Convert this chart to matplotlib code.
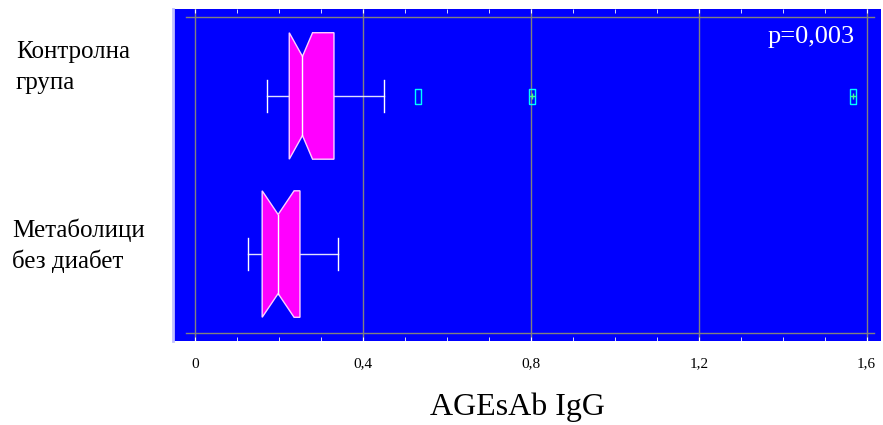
# AGEsAb IgG - notched box plot, control vs metabolic without diabetes
import numpy as np
import matplotlib.pyplot as plt
from matplotlib.ticker import MultipleLocator, FixedLocator


# Data .................................................
groups = ["Контролна\nгрупа", "Метаболици\nбез диабет"]
whisker_lo = [0.171, 0.127]
q1 = [0.2245, 0.160]
median = [0.256, 0.198]
notch_hi = [0.280, 0.236]
q3 = [0.331, 0.250]
whisker_hi = [0.450, 0.341]
outliers = [[0.530, 0.802, 1.567], []]
far_outliers = [[0.802, 1.567], []]
x_ticks = [0, 0.4, 0.8, 1.2, 1.6]
x_ticklabels = ["0", "0,4", "0,8", "1,2", "1,6"]
p_text = "p=0,003"
x_label = "AGEsAb IgG"


# Figure ......................................................................
serif = "Liberation Serif"
fig = plt.figure(figsize=(8.83, 4.25), dpi=100)
ax = fig.add_axes([173 / 883, 1 - 341 / 425, 708 / 883, 332 / 425])
ax.set_facecolor("#0000FF")
ax.set_xlim(-0.0524, 1.634)
ax.set_ylim(0.45, 2.55)

# grid and frame lines
for xt in x_ticks:
    ax.axvline(xt, color="#808080", lw=1, zorder=1)
ax.axhline(0.5, xmin=0.019, xmax=0.99, color="#808080", lw=1, zorder=1)
ax.axhline(2.5, xmin=0.019, xmax=0.99, color="#808080", lw=1, zorder=1)

half = 0.4      # half box height
waist = 0.25    # half height at the median
cap = 0.1       # half whisker cap height
edge = "#FFD0FF"

for i in range(len(groups)):
    y = len(groups) - i
    lo, hi = q1[i], q3[i]
    med, nh = median[i], notch_hi[i]

    # whiskers
    ax.plot([whisker_lo[i], lo], [y, y], color="#E0E0FF", lw=1, zorder=2)
    ax.plot([hi, whisker_hi[i]], [y, y], color="#E0E0FF", lw=1, zorder=2)
    ax.plot([whisker_lo[i]] * 2, [y - cap, y + cap], color="white", lw=1, zorder=2)
    ax.plot([whisker_hi[i]] * 2, [y - cap, y + cap], color="white", lw=1, zorder=2)

    # notched box
    xs = [lo, med, nh, hi, hi, nh, med, lo, lo]
    ys = [y + half, y + waist, y + half, y + half,
          y - half, y - half, y - waist, y - half, y + half]
    ax.fill(xs, ys, facecolor="#FF00FF", edgecolor=edge, lw=1, zorder=3)
    ax.plot([med, med], [y - waist, y + waist], color="white", lw=1, zorder=4)

    # outliers
    rect = [(-0.38, -1), (0.38, -1), (0.38, 1), (-0.38, 1), (-0.38, -1)]
    if outliers[i]:
        ax.plot(outliers[i], [y] * len(outliers[i]), ls="none", marker=rect,
                ms=10.8, mfc="none", mec="#00FFFF", mew=1, zorder=5)
    if far_outliers[i]:
        ax.plot(far_outliers[i], [y] * len(far_outliers[i]), ls="none",
                marker="+", ms=5, mec="#40FF90", mew=1, zorder=5)

# ticks
ax.xaxis.set_major_locator(FixedLocator(x_ticks))
ax.set_xticklabels(x_ticklabels, fontsize=11, family=serif)
ax.xaxis.set_minor_locator(MultipleLocator(0.1))
ax.tick_params(axis="x", which="both", direction="in", length=3,
               color="white", top=True, bottom=True, pad=12)
ax.set_yticks([])
for side in ["top", "right", "bottom"]:
    ax.spines[side].set_visible(False)
ax.spines["left"].set_color("#C0C0FF")
ax.spines["left"].set_linewidth(2)

# group labels
for i, name in enumerate(groups):
    lines = name.split("\n")
    base = [58, 237][i]
    left = [16, 12][i]
    for k, line in enumerate(lines):
        fig.text(left / 883, 1 - (base + 31 * k) / 425, line, fontsize=18,
                 family=serif, ha="left", va="baseline")

ax.text(855 / 883, 1 - 43 / 425, p_text, transform=fig.transFigure,
        fontsize=19, family=serif, color="white", ha="right", va="baseline")
fig.text(517 / 883, 1 - 415 / 425, x_label, fontsize=23, family=serif,
         ha="center", va="baseline")

fig.savefig("out.png", dpi=100)
